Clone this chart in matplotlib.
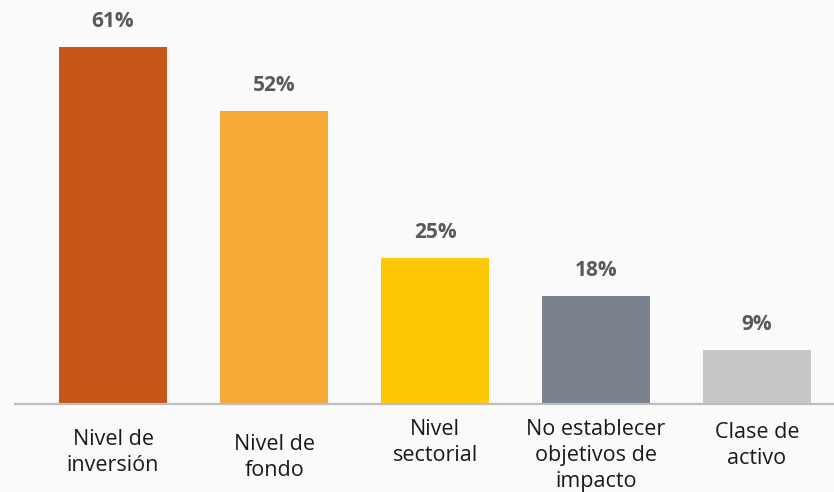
import matplotlib.pyplot as plt
from matplotlib.transforms import blended_transform_factory

# data
categorias = ['Nivel de\ninversión', 'Nivel de\nfondo', 'Nivel\nsectorial',
              'No establecer\nobjetivos de\nimpacto', 'Clase de\nactivo']
alturas = [61, 50, 25, 18.5, 9.2]          # bar heights as drawn
etiquetas = ['61%', '52%', '25%', '18%', '9%']  # printed labels
colores = ['#C65518', '#F6A936', '#FCC904', '#79828E', '#C6C6C6']

# where each category label starts below the baseline (pixels)
label_gap = [25, 30, 15, 15, 18]

plt.rcParams['font.family'] = ['Open Sans', 'DejaVu Sans']

fig = plt.figure(figsize=(8.34, 4.92), dpi=100)
fig.patch.set_facecolor('#FAFAFA')
ax = fig.add_axes([15 / 834, 88 / 492, 819 / 834, 404 / 492])
ax.set_facecolor('#FAFAFA')

x = range(len(alturas))
ax.bar(x, alturas, width=0.67, color=colores, zorder=2)

ax.set_xlim(-0.609, 4.478)
ax.set_ylim(0, 69.03)

for s in ['top', 'right', 'left']:
    ax.spines[s].set_visible(False)
ax.spines['bottom'].set_color('#BDBDBD')
ax.spines['bottom'].set_linewidth(1.6)
ax.spines['bottom'].set_zorder(3)
ax.set_xticks([])
ax.set_yticks([])

for i, (h, t) in enumerate(zip(alturas, etiquetas)):
    ax.annotate(t, xy=(i, h), xytext=(0, 15), textcoords='offset pixels',
                ha='center', va='bottom', fontsize=15, fontweight='bold',
                color='#595959')

tr = blended_transform_factory(ax.transData, ax.transAxes)
for i, c in enumerate(categorias):
    ax.annotate(c, xy=(i, 0), xycoords=tr, xytext=(0, -label_gap[i]),
                textcoords='offset pixels', ha='center', va='top',
                fontsize=15.5, color='#1A1A1A', linespacing=1.3,
                annotation_clip=False)

fig.savefig('out.png', dpi=100, facecolor=fig.get_facecolor())
